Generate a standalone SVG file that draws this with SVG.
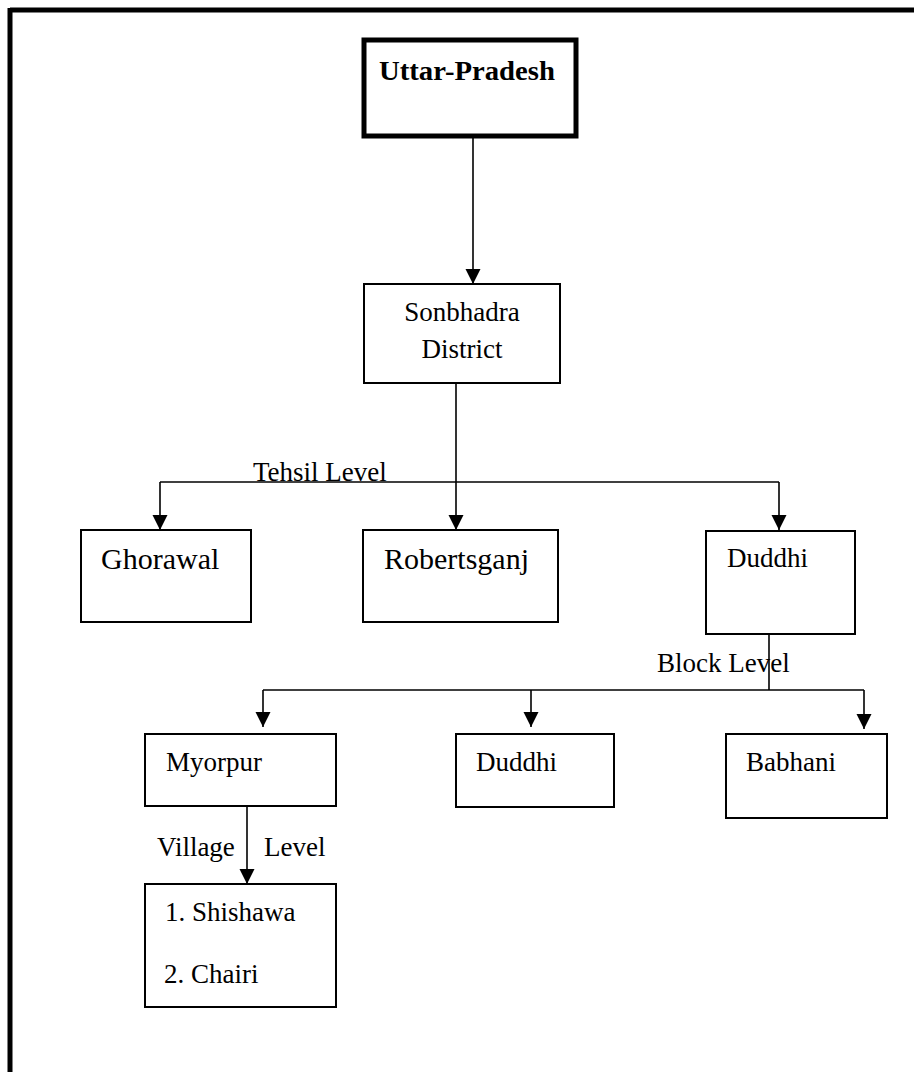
<svg xmlns="http://www.w3.org/2000/svg" width="914" height="1072" viewBox="0 0 914 1072">
<style>
.box{fill:#fff;stroke:#000;stroke-width:2}
.t{font-family:"Liberation Serif","Times New Roman",serif;font-size:27px;fill:#000}
.big{font-size:30px}
.conn{fill:none;stroke:#000;stroke-width:1.6}
.arr{marker-end:url(#ah)}
</style>
<defs>
<marker id="ah" markerUnits="userSpaceOnUse" markerWidth="16" markerHeight="16" refX="15" refY="7.5" orient="auto">
<path d="M0,0 L15,7.5 L0,15 z" fill="#000"/>
</marker>
</defs>
<rect width="914" height="1072" fill="#fff"/>
<g id="frame" fill="none" stroke="#000" stroke-width="5">
<line x1="10" y1="10" x2="914" y2="10"/>
<line x1="10" y1="8" x2="10" y2="1072"/>
</g>
<g id="connectors">
<line class="conn arr" x1="473" y1="137" x2="473" y2="284"/>
<line class="conn arr" x1="456" y1="383" x2="456" y2="530"/>
<polyline class="conn" points="160,482 779,482"/>
<line class="conn arr" x1="160" y1="482" x2="160" y2="530"/>
<line class="conn arr" x1="779" y1="482" x2="779" y2="530"/>
<line class="conn" x1="769" y1="634" x2="769" y2="690"/>
<polyline class="conn" points="263,690 864,690"/>
<line class="conn arr" x1="263" y1="690" x2="263" y2="727"/>
<line class="conn arr" x1="531" y1="690" x2="531" y2="727"/>
<line class="conn arr" x1="864" y1="690" x2="864" y2="729"/>
<line class="conn arr" x1="247" y1="806" x2="247" y2="884"/>
<text class="t" x="253" y="481">Tehsil Level</text>
<text class="t" x="657" y="672">Block Level</text>
<text class="t" x="157" y="856">Village</text>
<text class="t" x="264" y="856">Level</text>
</g>
<g id="uttar-pradesh">
<rect x="364" y="40" width="212" height="96" fill="#fff" stroke="#000" stroke-width="5"/>
<text class="t" x="379" y="80" font-weight="bold" font-size="28" textLength="176" lengthAdjust="spacingAndGlyphs">Uttar-Pradesh</text>
</g>
<g id="sonbhadra">
<rect class="box" x="364" y="284" width="196" height="99"/>
<text class="t" x="462" y="321" text-anchor="middle">Sonbhadra</text>
<text class="t" x="462" y="358" text-anchor="middle">District</text>
</g>
<g id="ghorawal">
<rect class="box" x="81" y="530" width="170" height="92"/>
<text class="t big" x="101" y="569">Ghorawal</text>
</g>
<g id="robertsganj">
<rect class="box" x="363" y="530" width="195" height="92"/>
<text class="t big" x="384" y="569">Robertsganj</text>
</g>
<g id="duddhi-tehsil">
<rect class="box" x="706" y="531" width="149" height="103"/>
<text class="t" x="727" y="567">Duddhi</text>
</g>
<g id="myorpur">
<rect class="box" x="145" y="734" width="191" height="72"/>
<text class="t" x="166" y="771">Myorpur</text>
</g>
<g id="duddhi-block">
<rect class="box" x="456" y="734" width="158" height="73"/>
<text class="t" x="476" y="771">Duddhi</text>
</g>
<g id="babhani">
<rect class="box" x="726" y="734" width="161" height="84"/>
<text class="t" x="746" y="771">Babhani</text>
</g>
<g id="villages">
<rect class="box" x="145" y="884" width="191" height="123"/>
<text class="t" x="165" y="921">1. Shishawa</text>
<text class="t" x="164" y="983">2. Chairi</text>
</g>
</svg>
